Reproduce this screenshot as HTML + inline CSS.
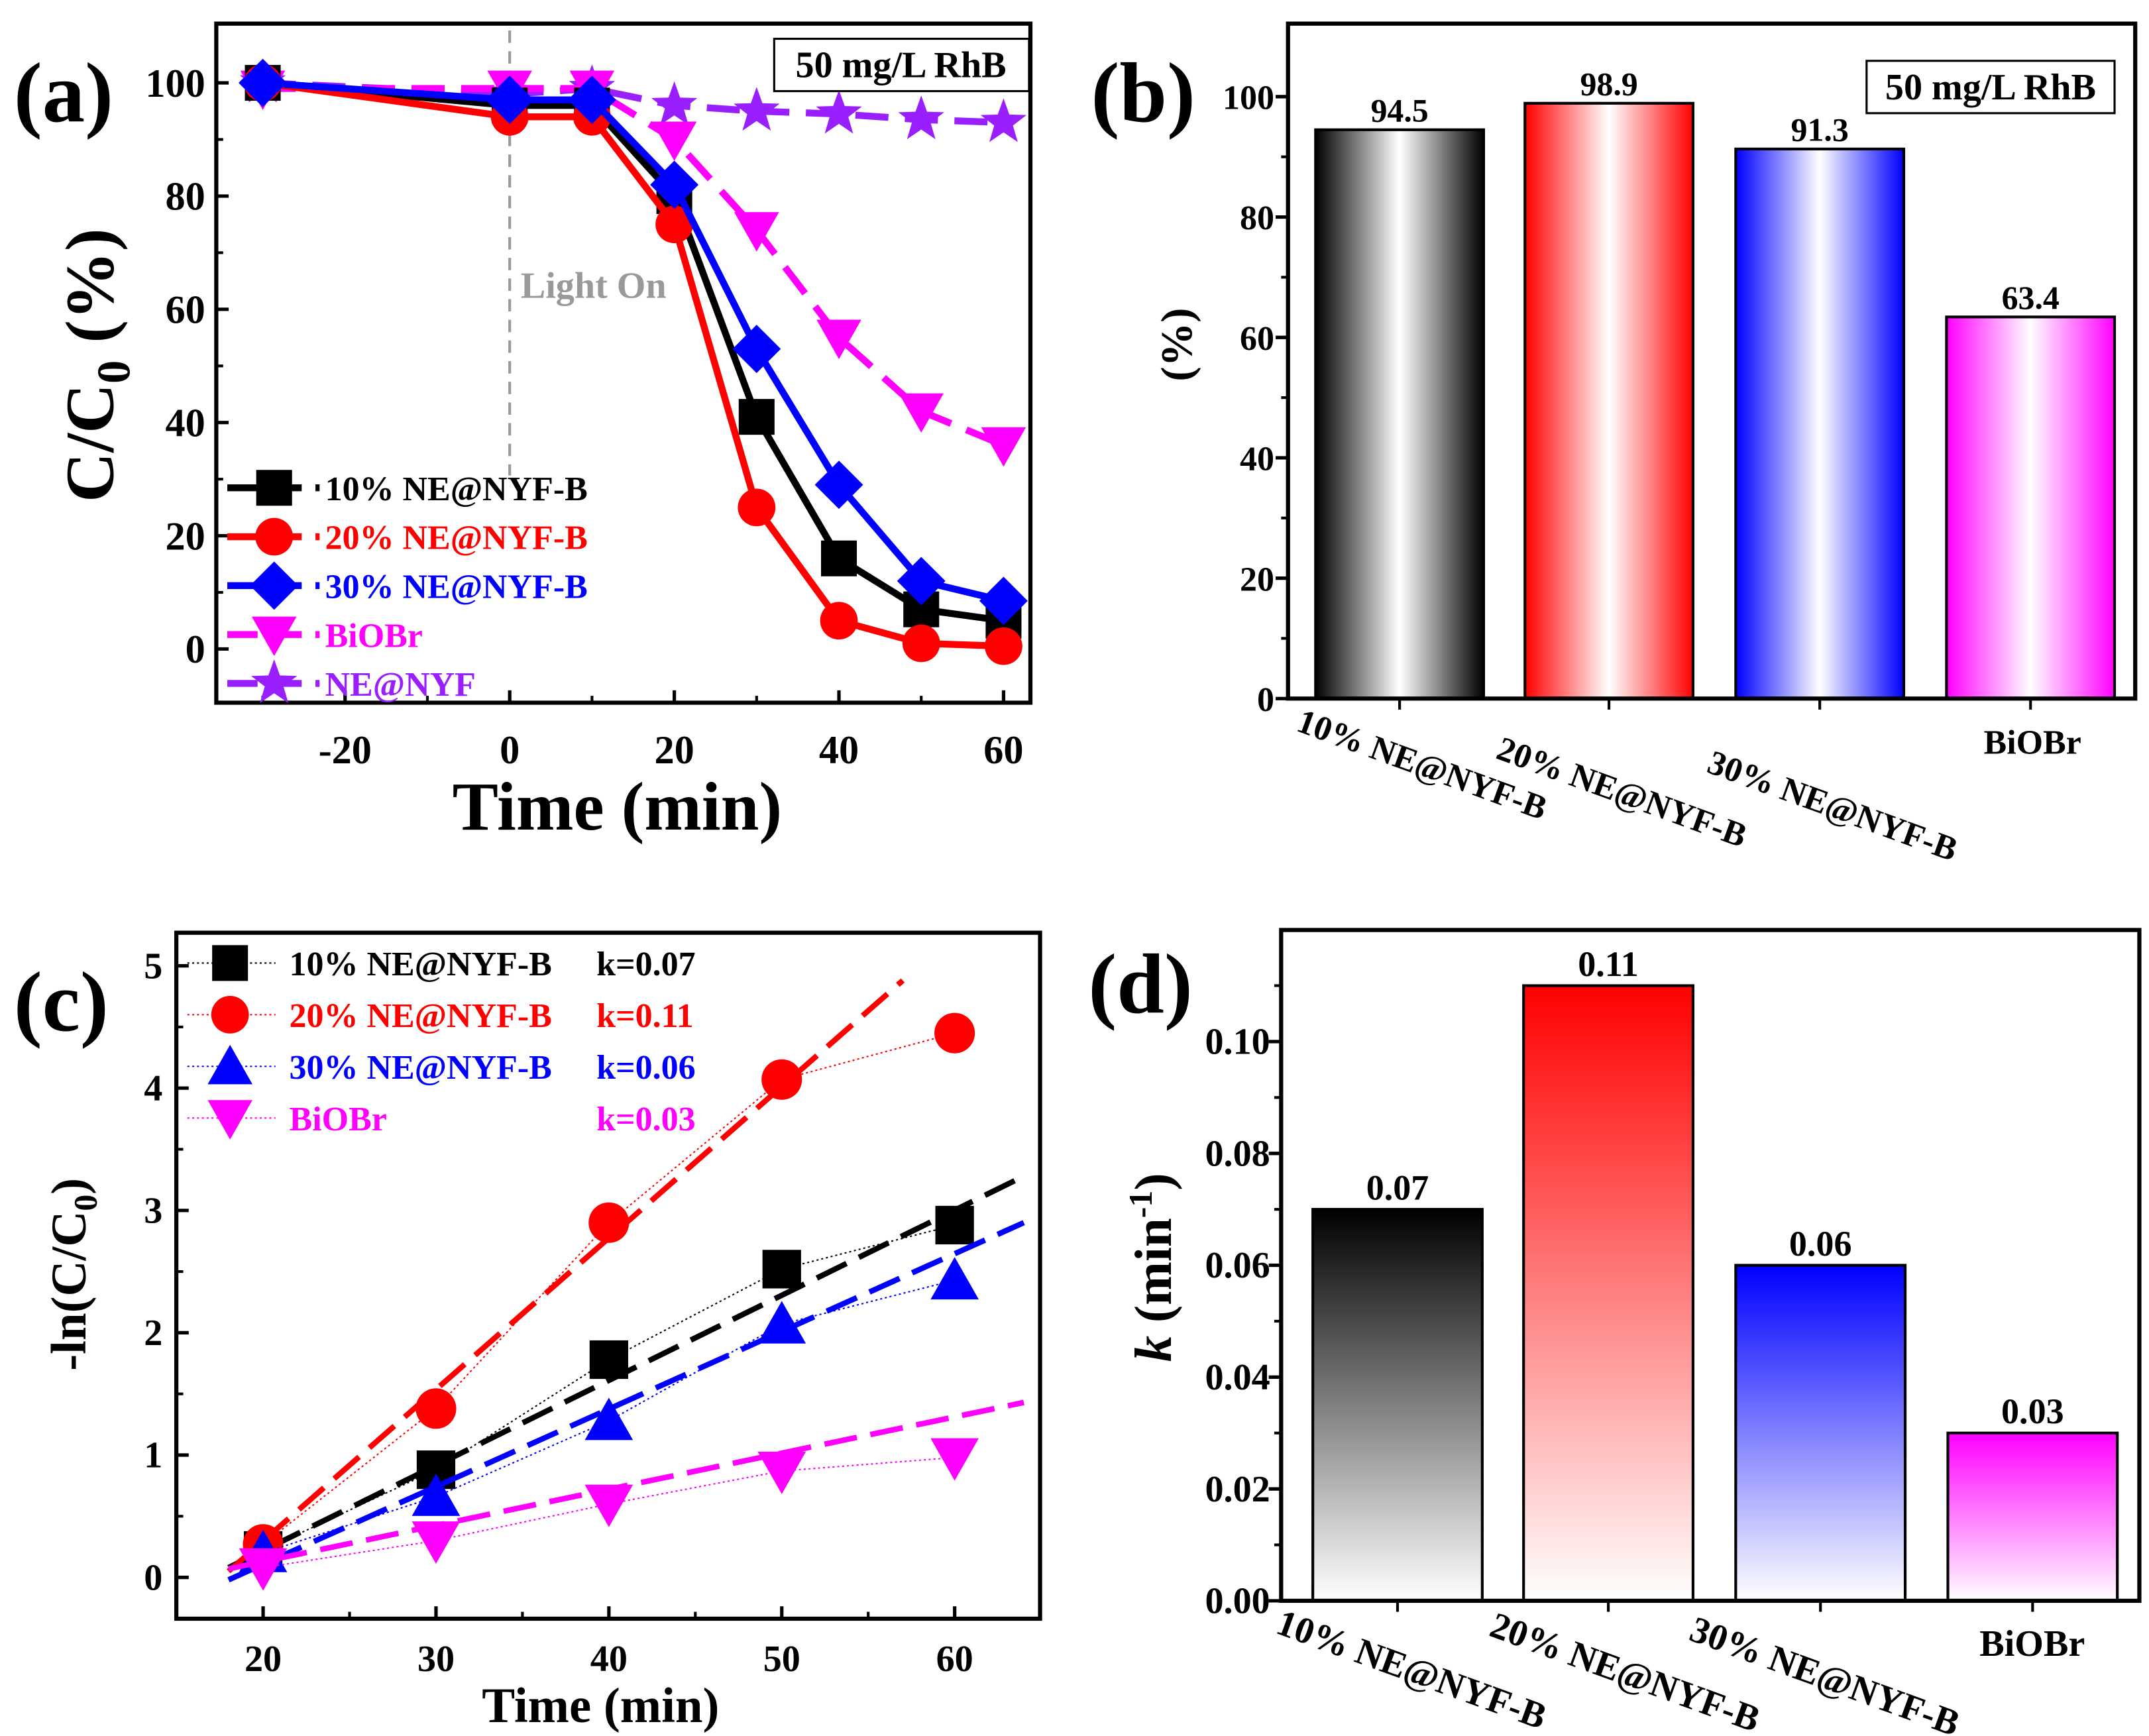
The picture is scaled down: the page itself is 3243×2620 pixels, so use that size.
<!DOCTYPE html>
<html><head><meta charset="utf-8"><style>
html,body{margin:0;padding:0;background:#fff}
svg{display:block}
svg, text, tspan{font-family:"Liberation Serif","Times New Roman",serif !important;font-weight:bold}
</style></head><body>
<svg id="fig" xmlns="http://www.w3.org/2000/svg" width="3243" height="2620" viewBox="0 0 1560 1260" font-family="'Liberation Serif', serif" font-weight="bold">
<defs>
<linearGradient id="gh0" x1="0" x2="1"><stop offset="0" stop-color="#000"/><stop offset="0.5" stop-color="#fff"/><stop offset="1" stop-color="#000"/></linearGradient>
<linearGradient id="gh1" x1="0" x2="1"><stop offset="0" stop-color="#f00"/><stop offset="0.5" stop-color="#fff"/><stop offset="1" stop-color="#f00"/></linearGradient>
<linearGradient id="gh2" x1="0" x2="1"><stop offset="0" stop-color="#00f"/><stop offset="0.5" stop-color="#fff"/><stop offset="1" stop-color="#00f"/></linearGradient>
<linearGradient id="gh3" x1="0" x2="1"><stop offset="0" stop-color="#f0f"/><stop offset="0.5" stop-color="#fff"/><stop offset="1" stop-color="#f0f"/></linearGradient>
<linearGradient id="gv0" x1="0" y1="0" x2="0" y2="1"><stop offset="0" stop-color="#000"/><stop offset="1" stop-color="#fff"/></linearGradient>
<linearGradient id="gv1" x1="0" y1="0" x2="0" y2="1"><stop offset="0" stop-color="#f00"/><stop offset="1" stop-color="#fff"/></linearGradient>
<linearGradient id="gv2" x1="0" y1="0" x2="0" y2="1"><stop offset="0" stop-color="#00f"/><stop offset="1" stop-color="#fff"/></linearGradient>
<linearGradient id="gv3" x1="0" y1="0" x2="0" y2="1"><stop offset="0" stop-color="#f0f"/><stop offset="1" stop-color="#fff"/></linearGradient>
</defs>
</svg>
<script>
// ---- Panel (a) data ----
const aTimes=[-30,0,10,20,30,40,50,60];
const a10=[100,96,96,80,41,16,7,5];
const a20=[100,94,94,75,25,5,1,0.5];
const a30=[100,97,97,82,53,29,12,8.5];
const aBi=[99,99,99,90,74,55,42,36];
const aNE=[100,98,99,96,95,94.5,93.5,93];
const aXTicks=[-20,0,20,40,60];
const aYTicks=[0,20,40,60,80,100];
// ---- Panel (b) data ----
const bCats=["10% NE@NYF-B","20% NE@NYF-B","30% NE@NYF-B","BiOBr"];
const bVals=[94.5,98.9,91.3,63.4];
const bYTicks=[0,20,40,60,80,100];
// ---- Panel (c) data ----
const cTimes=[20,30,40,50,60];
const c10=[0.22,0.88,1.78,2.52,2.88];
const c20=[0.27,1.38,2.9,4.07,4.45];
const c30=[0.2,0.66,1.28,2.07,2.43];
const cBi=[0.08,0.3,0.6,0.87,0.98];
const cFitT0=[18,18,18,18];
const cFitT1=[64,57,64,64];
const cFitY0=[0.08,0.05,-0.02,0.07];
const cFitY1=[3.28,4.88,2.9,1.43];
const cK=["k=0.07","k=0.11","k=0.06","k=0.03"];
const cXTicks=[20,30,40,50,60];
const cYTicks=[0,1,2,3,4,5];
// ---- Panel (d) data ----
const dCats=["10% NE@NYF-B","20% NE@NYF-B","30% NE@NYF-B","BiOBr"];
const dVals=[0.07,0.11,0.06,0.03];
const dLabels=["0.07","0.11","0.06","0.03"];
const dYTicks=[0,0.02,0.04,0.06,0.08,0.10];

const NS="http://www.w3.org/2000/svg";
const svg=document.getElementById('fig');
function el(tag,attrs,parent,txt){const e=document.createElementNS(NS,tag);for(const k in attrs)e.setAttribute(k,attrs[k]);if(txt!==undefined)e.textContent=txt;(parent||svg).appendChild(e);return e;}
function grp(name){const g=el('g',{});return g;}
function marker(g,type,x,y,s,color){
  let e;
  if(type==='sq') e=el('rect',{x:x-s,y:y-s,width:2*s,height:2*s,fill:color},g);
  else if(type==='ci') e=el('circle',{cx:x,cy:y,r:s*1.05,fill:color},g);
  else if(type==='di') e=el('polygon',{points:`${x},${y-s*1.35} ${x+s*1.35},${y} ${x},${y+s*1.35} ${x-s*1.35},${y}`,fill:color},g);
  else if(type==='dt') e=el('polygon',{points:`${x-s*1.25},${y-s} ${x+s*1.25},${y-s} ${x},${y+s*1.2}`,fill:color},g);
  else if(type==='ut') e=el('polygon',{points:`${x-s*1.25},${y+s} ${x+s*1.25},${y+s} ${x},${y-s*1.2}`,fill:color},g);
  else if(type==='st'){let p=[];for(let i=0;i<10;i++){const r=i%2?s*0.55:s*1.35;const a=-Math.PI/2+i*Math.PI/5;p.push((x+r*Math.cos(a))+','+(y+r*Math.sin(a)));}e=el('polygon',{points:p.join(' '),fill:color},g);}
  return e;
}
const cols=["#000","#f00","#00f","#f0f","#9a1fff"];

// ================= Panel (a) =================
(function(){
  const L=157,R=748,T=17,B=510;
  const xa=t=>370+t*5.975, ya=v=>471-v*4.11;
  const g=grp('panel-a');
  el('rect',{x:L,y:T,width:R-L,height:B-T,fill:'none',stroke:'#000','stroke-width':3},g);
  aXTicks.forEach(t=>{el('line',{x1:xa(t),x2:xa(t),y1:B,y2:B-9,stroke:'#000','stroke-width':2.5},g);
    const tx=el('text',{x:xa(t),y:B+44,'font-size':29,'text-anchor':'middle'},g,t);});
  [-30,-10,10,30,50].forEach(t=>el('line',{x1:xa(t),x2:xa(t),y1:B,y2:B-5,stroke:'#000','stroke-width':2},g));
  aYTicks.forEach(v=>{el('line',{x1:L,x2:L+9,y1:ya(v),y2:ya(v),stroke:'#000','stroke-width':2.5},g);
    const tx=el('text',{x:L-8,y:ya(v)+10,'font-size':29,'text-anchor':'end'},g,v);});
  [10,30,50,70,90].forEach(v=>el('line',{x1:L,x2:L+5,y1:ya(v),y2:ya(v),stroke:'#000','stroke-width':2},g));
  el('line',{x1:xa(0),x2:xa(0),y1:T+5,y2:345,stroke:'#999','stroke-width':2,'stroke-dasharray':'9,6'},g);
  const lo=el('text',{x:378,y:216,'font-size':27,fill:'#999'},g,'Light On');
  const series=[[a10,'sq'],[a20,'ci'],[a30,'di'],[aBi,'dt'],[aNE,'st']];
  const order=[4,3,0,1,2];
  order.forEach(i=>{const [d,m]=series[i];
    const sg=el('g',{},g);
    el('polyline',{points:aTimes.map((t,j)=>xa(t)+','+ya(d[j])).join(' '),fill:'none',stroke:cols[i],'stroke-width':5,'stroke-dasharray':(i>=3?'24,12':'none')},sg);
    aTimes.forEach((t,j)=>marker(sg,m,xa(t),ya(d[j]),13,cols[i]));
  });
  const lb=el('g',{},g);
  const names=["10% NE@NYF-B","20% NE@NYF-B","30% NE@NYF-B","BiOBr","NE@NYF"];
  names.forEach((n,i)=>{const y=354+i*35.5;
    el('line',{x1:165,x2:232,y1:y,y2:y,stroke:cols[i],'stroke-width':5,'stroke-dasharray':'22,10'},lb);
    marker(lb,series[i][1],199,y,13,cols[i]);
    el('text',{x:236,y:y+9,'font-size':25,fill:cols[i]},lb,n);});
  el('rect',{x:562,y:28,width:185,height:38,fill:'#fff',stroke:'#000','stroke-width':1.5},g);
  el('text',{x:654,y:56,'font-size':27,'text-anchor':'middle'},g,'50 mg/L RhB');
  el('text',{x:10,y:88,'font-size':62},g,'(a)');
  const yt=el('text',{transform:'translate(82,265) rotate(-90)','font-size':50,'text-anchor':'middle'},g);
  
  yt.innerHTML='C/C<tspan font-size="34" dy="12">0</tspan><tspan dy="-12"> (%)</tspan>';
  const xt=el('text',{x:448,y:602,'font-size':50,'text-anchor':'middle'},g,'Time (min)');
  
})();

// ================= Panel (b) =================
(function(){
  const L=935,R=1550,T=17,B=507;
  const yb=v=>B-v*4.37;
  const g=grp('panel-b');
  const x0=[955,1107,1260,1413], w=122;
  bVals.forEach((v,i)=>{const r=el('rect',{x:x0[i],y:yb(v),width:w,height:B-yb(v),fill:`url(#gh${i})`,stroke:'#000','stroke-width':2},g);
    
    el('text',{x:x0[i]+w/2,y:yb(v)-6,'font-size':24,'text-anchor':'middle'},g,v.toFixed(1));
    el('line',{x1:x0[i]+w/2,x2:x0[i]+w/2,y1:B,y2:B+8,stroke:'#000','stroke-width':2},g);
  });
  el('rect',{x:L,y:T,width:R-L,height:B-T,fill:'none',stroke:'#000','stroke-width':3},g);
  bYTicks.forEach(v=>{el('line',{x1:L,x2:L-9,y1:yb(v),y2:yb(v),stroke:'#000','stroke-width':2.5},g);
    el('text',{x:L-10,y:yb(v)+9,'font-size':25,'text-anchor':'end'},g,v);});
  [10,30,50,70,90].forEach(v=>el('line',{x1:L,x2:L-5,y1:yb(v),y2:yb(v),stroke:'#000','stroke-width':2},g));
  const lx=[940,1085,1238,1440],ly=[530,550,560,547];
  bCats.forEach((c,i)=>{if(i<3)el('text',{transform:`translate(${lx[i]},${ly[i]}) rotate(20)`,'font-size':25},g,c);
    else el('text',{x:lx[i],y:ly[i],'font-size':25},g,c);});
  el('rect',{x:1355,y:44,width:180,height:38,fill:'#fff',stroke:'#000','stroke-width':1.5},g);
  el('text',{x:1445,y:72,'font-size':27,'text-anchor':'middle'},g,'50 mg/L RhB');
  el('text',{x:792,y:88,'font-size':62},g,'(b)');
  el('text',{transform:'translate(865,250) rotate(-90)','font-size':32,'text-anchor':'middle'},g,'(%)');
})();

// ================= Panel (c) =================
(function(){
  const L=128,R=755,T=677,B=1175;
  const xc=t=>191+(t-20)*12.55, yc=v=>1145-v*88.8;
  const g=grp('panel-c');
  el('rect',{x:L,y:T,width:R-L,height:B-T,fill:'none',stroke:'#000','stroke-width':3},g);
  cXTicks.forEach(t=>{el('line',{x1:xc(t),x2:xc(t),y1:B,y2:B-9,stroke:'#000','stroke-width':2.5},g);
    el('text',{x:xc(t),y:B+38,'font-size':27,'text-anchor':'middle'},g,t);});
  [25,35,45,55].forEach(t=>el('line',{x1:xc(t),x2:xc(t),y1:B,y2:B-5,stroke:'#000','stroke-width':2},g));
  cYTicks.forEach(v=>{el('line',{x1:L,x2:L+9,y1:yc(v),y2:yc(v),stroke:'#000','stroke-width':2.5},g);
    el('text',{x:L-10,y:yc(v)+9,'font-size':27,'text-anchor':'end'},g,v);});
  [0.5,1.5,2.5,3.5,4.5].forEach(v=>el('line',{x1:L,x2:L+5,y1:yc(v),y2:yc(v),stroke:'#000','stroke-width':2},g));
  const ser=[[c10,'sq'],[c20,'ci'],[c30,'ut'],[cBi,'dt']];
  ser.forEach(([d,m],i)=>{
    const sg=el('g',{},g);
    el('polyline',{points:cTimes.map((t,j)=>xc(t)+','+yc(d[j])).join(' '),fill:'none',stroke:cols[i],'stroke-width':1,'stroke-dasharray':'1.5,2'},sg);
    const f=el('line',{x1:xc(cFitT0[i]),y1:yc(cFitY0[i]),x2:xc(cFitT1[i]),y2:yc(cFitY1[i]),stroke:cols[i],'stroke-width':4,'stroke-dasharray':'24,10'},sg);
    
    cTimes.forEach((t,j)=>marker(sg,m,xc(t),yc(d[j]),14,cols[i]));
  });
  const lb=el('g',{},g);
  const names=["10% NE@NYF-B","20% NE@NYF-B","30% NE@NYF-B","BiOBr"];
  names.forEach((n,i)=>{const y=699+i*37.5;
    el('line',{x1:136,x2:200,y1:y,y2:y,stroke:cols[i],'stroke-width':1,'stroke-dasharray':'1.5,2'},lb);
    marker(lb,ser[i][1],167,y,13,cols[i]);
    el('text',{x:210,y:y+9,'font-size':25,fill:cols[i]},lb,n);
    el('text',{x:433,y:y+9,'font-size':25,fill:cols[i]},lb,cK[i]);});
  el('text',{x:10,y:748,'font-size':62},g,'(c)');
  const yt=el('text',{transform:'translate(62,925) rotate(-90)','font-size':36,'text-anchor':'middle'},g);
  yt.innerHTML='-ln(C/C<tspan font-size="24" dy="8">0</tspan><tspan dy="-8">)</tspan>';
  el('text',{x:436,y:1250,'font-size':36,'text-anchor':'middle'},g,'Time (min)');
})();

// ================= Panel (d) =================
(function(){
  const L=930,R=1553,T=675,B=1162;
  const yd=v=>B-v*4060;
  const g=grp('panel-d');
  const x0=[953,1106,1260,1414], w=123;
  dVals.forEach((v,i)=>{const r=el('rect',{x:x0[i],y:yd(v),width:w,height:B-yd(v),fill:`url(#gv${i})`,stroke:'#000','stroke-width':2},g);
    
    el('text',{x:x0[i]+w/2,y:yd(v)-7,'font-size':26,'text-anchor':'middle'},g,dLabels[i]);
    el('line',{x1:x0[i]+w/2,x2:x0[i]+w/2,y1:B,y2:B+8,stroke:'#000','stroke-width':2},g);
  });
  el('rect',{x:L,y:T,width:R-L,height:B-T,fill:'none',stroke:'#000','stroke-width':3},g);
  dYTicks.forEach(v=>{el('line',{x1:L,x2:L-9,y1:yd(v),y2:yd(v),stroke:'#000','stroke-width':2.5},g);
    el('text',{x:L-8,y:yd(v)+9,'font-size':27,'text-anchor':'end'},g,v.toFixed(2));});
  [0.01,0.03,0.05,0.07,0.09,0.11].forEach(v=>el('line',{x1:L,x2:L-5,y1:yd(v),y2:yd(v),stroke:'#000','stroke-width':2},g));
  const lx=[925,1080,1225,1437],ly=[1185,1187,1190,1202];
  dCats.forEach((c,i)=>{if(i<3)el('text',{transform:`translate(${lx[i]},${ly[i]}) rotate(20)`,'font-size':27},g,c);
    else el('text',{x:lx[i],y:ly[i],'font-size':27},g,c);});
  el('text',{x:790,y:735,'font-size':62},g,'(d)');
  const yt=el('text',{transform:'translate(850,920) rotate(-90)','font-size':38,'text-anchor':'middle'},g);
  yt.innerHTML='<tspan font-style="italic">k</tspan> (min<tspan font-size="24" dy="-14">-1</tspan><tspan dy="14">)</tspan>';
})();
</script>
</body></html>
